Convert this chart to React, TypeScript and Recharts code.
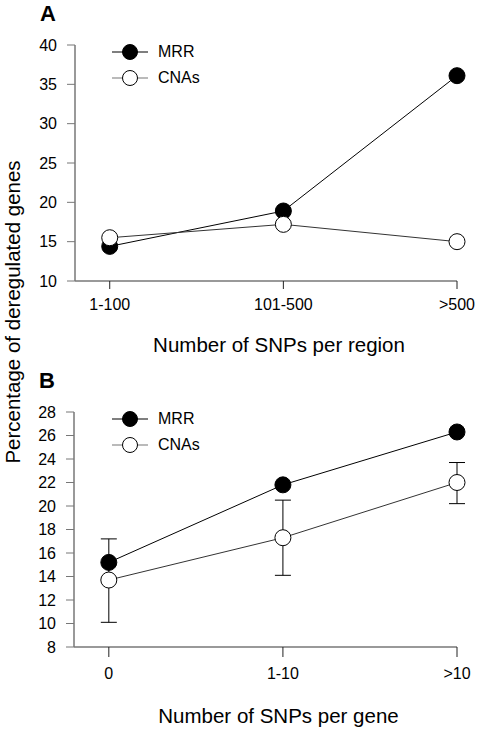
import { LineChart, Line, XAxis, YAxis, ErrorBar, Legend } from 'recharts';

// panel A: SNPs per region
const regionBins = ['1-100', '101-500', '>500'];
const regionMRR = [14.4, 18.9, 36.1];
const regionCNA = [15.5, 17.2, 15.0];
const regionTicks = [10, 15, 20, 25, 30, 35, 40];

// panel B: SNPs per gene
const geneBins = ['0', '1-10', '>10'];
const geneMRR = [15.2, 21.8, 26.3];
const geneCNA = [13.7, 17.3, 22.0];
const geneCNAErr = [[3.6, 3.5], [3.2, 3.2], [1.8, 1.7]];
const geneTicks = [8, 10, 12, 14, 16, 18, 20, 22, 24, 26, 28];

const seriesNames = ['MRR', 'CNAs'];

const FONT = '"Liberation Sans", Arial, sans-serif';
const AXIS = '#777';

const regionRows = regionBins.map((label, i) => ({ x: i + 1, label, mrr: regionMRR[i], cna: regionCNA[i] }));
const geneRows = geneBins.map((label, i) => ({ x: i + 1, label, mrr: geneMRR[i], cna: geneCNA[i], err: geneCNAErr[i] }));

function LegendBox() {
  return (
    <div style={{ fontFamily: FONT, fontSize: 16, color: '#000' }}>
      {seriesNames.map((name, i) => (
        <div key={name} style={{ display: 'flex', alignItems: 'center', height: 26 }}>
          <svg width={40} height={26}>
            <line x1={2} x2={38} y1={13} y2={13} stroke={i === 0 ? '#000' : AXIS} strokeWidth={1.2} />
            <circle cx={20} cy={13} r={7.5} fill={i === 0 ? '#000' : '#fff'} stroke="#000" strokeWidth={1} />
          </svg>
          <span style={{ marginLeft: 8 }}>{name}</span>
        </div>
      ))}
    </div>
  );
}

function Panel({ rows, ticks, bins, title, top, height, marginTop, axisLeft, tickLen, xHeight, withErr }: any) {
  const tickStyle = { fill: '#000', fontSize: 16, fontFamily: FONT };
  return (
    <div style={{ position: 'absolute', left: 0, top }}>
      <LineChart width={481} height={height} data={rows} margin={{ top: marginTop, right: 24, left: 0, bottom: 0 }}>
        <XAxis dataKey="x" type="number" domain={[0.8, 3]} ticks={[1, 2, 3]} tickFormatter={(v: number) => bins[v - 1]}
          height={xHeight} tick={tickStyle} tickSize={tickLen} tickMargin={tickLen === 8 ? 10 : 11}
          axisLine={{ stroke: AXIS, strokeWidth: 1.5 }} tickLine={{ stroke: '#222' }}
          label={{ value: title, position: 'insideBottom', offset: 8, dx: 13, style: { fill: '#000', fontSize: 20.5, fontFamily: FONT } }} />
        <YAxis type="number" domain={[ticks[0], ticks[ticks.length - 1]]} ticks={ticks} interval={0} width={axisLeft}
          tick={tickStyle} tickSize={8} tickMargin={10}
          axisLine={{ stroke: AXIS, strokeWidth: 1.5 }} tickLine={{ stroke: AXIS }} />
        <Legend layout="vertical" align="center" verticalAlign="middle" content={() => <LegendBox />}
          wrapperStyle={{ left: 110, top: marginTop - 6, width: 'auto' }} />
        <Line dataKey="mrr" name="MRR" stroke="#000" strokeWidth={1} isAnimationActive={false}
          dot={{ r: 8, fill: '#000', stroke: '#000', strokeWidth: 1 }} />
        <Line dataKey="cna" name="CNAs" stroke="#333" strokeWidth={1} isAnimationActive={false}
          dot={{ r: 8, fill: '#fff', stroke: '#000', strokeWidth: 1 }}>
          {withErr && <ErrorBar dataKey="err" direction="y" width={8} stroke="#000" strokeWidth={1} />}
        </Line>
      </LineChart>
    </div>
  );
}

export default function App() {
  const letter = { position: 'absolute' as const, fontFamily: FONT, fontWeight: 700, fontSize: 22, lineHeight: 1 };
  return (
    <div style={{ position: 'absolute', left: 0, top: 0, width: 481, height: 731, background: '#fff' }}>
      <Panel rows={regionRows} ticks={regionTicks} bins={regionBins} title="Number of SNPs per region"
        top={0} height={360} marginTop={45} axisLeft={75} tickLen={8} xHeight={79} />
      <Panel rows={geneRows} ticks={geneTicks} bins={geneBins} title="Number of SNPs per gene"
        top={360} height={371} marginTop={52} axisLeft={74} tickLen={10} xHeight={84} withErr />
      <div style={{ ...letter, left: 40, top: 3 }}>A</div>
      <div style={{ ...letter, left: 39, top: 370 }}>B</div>
      <div style={{ position: 'absolute', left: 13, top: 312, transform: 'translate(-50%, -50%) rotate(-90deg)',
        whiteSpace: 'nowrap', fontFamily: FONT, fontSize: 20.5, lineHeight: 1 }}>
        Percentage of deregulated genes
      </div>
    </div>
  );
}
